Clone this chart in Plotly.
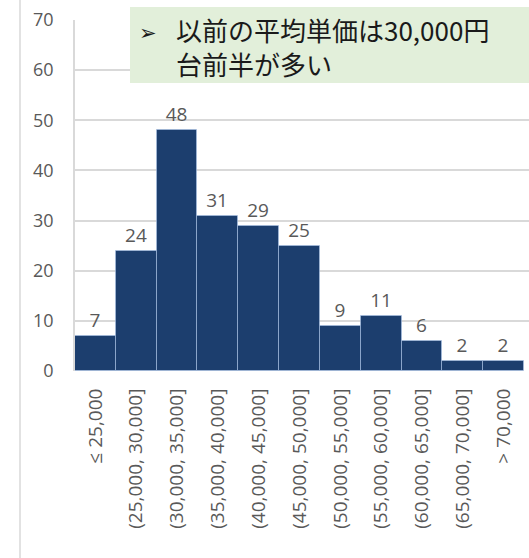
import plotly.graph_objects as go

# Histogram of previous average unit price (yen), bin counts
bins = ["≤ 25,000", "(25,000, 30,000]", "(30,000, 35,000]", "(35,000, 40,000]",
        "(40,000, 45,000]", "(45,000, 50,000]", "(50,000, 55,000]", "(55,000, 60,000]",
        "(60,000, 65,000]", "(65,000, 70,000]", "> 70,000"]
counts = [7, 24, 48, 31, 29, 25, 9, 11, 6, 2, 2]
y_ticks = [0, 10, 20, 30, 40, 50, 60, 70]

W, H = 529, 558
L, R, T, B = 75, 0, 20, 187
pw, ph = W - L - R, H - T - B

def px_x(x):
    return (x - L) / pw

def px_y(y):
    return (H - B - y) / ph

fig = go.Figure(go.Bar(
    x=list(range(len(bins))),
    y=counts,
    text=[str(c) for c in counts],
    textposition="outside",
    cliponaxis=False,
    textfont=dict(family="Open Sans", size=19, color="#595959"),
    marker=dict(color="#1C3E6E", line=dict(color="rgba(170,195,230,0.6)", width=1)),
))

fig.update_layout(
    width=W, height=H,
    margin=dict(l=L, r=R, t=T, b=B),
    paper_bgcolor="white", plot_bgcolor="white",
    bargap=0,
    showlegend=False,
    font=dict(family="Open Sans", color="#595959"),
)

fig.update_xaxes(
    range=[-0.5, 10.62],
    tickmode="array", tickvals=list(range(len(bins))), ticktext=bins,
    tickangle=-90, tickfont=dict(size=19, color="#595959"),
    ticks="outside", ticklen=9, tickcolor="rgba(0,0,0,0)",
    showgrid=False, zeroline=False, showline=False,
)
fig.update_yaxes(
    range=[0, 70],
    tickmode="array", tickvals=y_ticks,
    tickfont=dict(size=18, color="#595959"),
    ticks="outside", ticklen=16, tickcolor="rgba(0,0,0,0)",
    showgrid=True, gridcolor="#d9d9d9", gridwidth=1.5,
    zeroline=False, showline=True, linecolor="#d9d9d9", linewidth=1.5,
)

# outer chart frame line on the left
fig.add_shape(type="line", xref="paper", yref="paper",
              x0=px_x(20), x1=px_x(20), y0=px_y(H), y1=px_y(0),
              line=dict(color="#d9d9d9", width=1.5), layer="below")

# callout box
fig.add_shape(type="rect", xref="paper", yref="paper",
              x0=px_x(130), x1=px_x(W + 2), y0=px_y(83), y1=px_y(7),
              fillcolor="#E2EFDA", line=dict(width=0), layer="above")

fig.add_annotation(xref="paper", yref="paper", x=px_x(137), y=px_y(33),
                   xanchor="left", yanchor="middle", showarrow=False,
                   text="➢", font=dict(family="DejaVu Sans", size=21, color="#1a1a1a"))
fig.add_annotation(xref="paper", yref="paper", x=px_x(174), y=px_y(47),
                   xanchor="left", yanchor="middle", align="left", showarrow=False,
                   text="以前の平均単価は30,000円<br>台前半が多い",
                   font=dict(family="Noto Sans CJK JP", size=26, color="#1a1a1a"))

fig.write_html("out.html")
